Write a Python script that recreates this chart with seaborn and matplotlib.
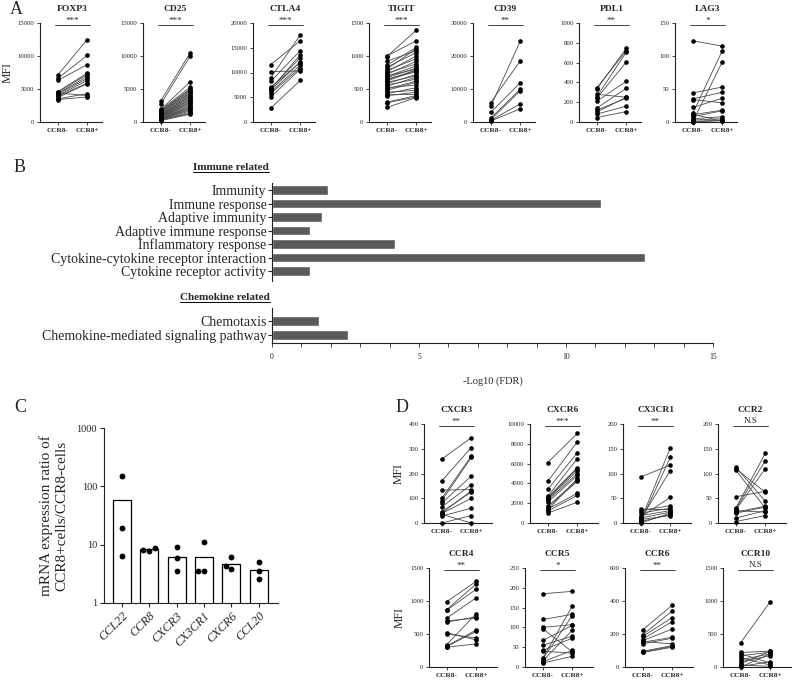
import numpy as np
import pandas as pd
import matplotlib
matplotlib.use("Agg")
import matplotlib.pyplot as plt
import matplotlib.ticker as ticker
from matplotlib.lines import Line2D
import seaborn as sns

# ---------------- data ----------------
# panel A : MFI, CCR8- vs CCR8+ (paired)
foxp3_neg = [7100, 6600, 6300, 4600, 4500, 4300, 4200, 4000, 3900, 3700, 3500, 4400, 3400]
foxp3_pos = [12500, 10100, 8700, 7400, 7200, 6900, 6600, 6300, 5900, 5800, 4300, 4000, 3800]
cd25_neg = [3200, 2700, 1900, 1800, 1700, 1600, 1500, 1400, 1300, 1200, 1100, 1000, 1000, 900,
            900, 800, 800, 700, 700, 600, 600, 500, 500, 400, 400, 300, 300, 200]
cd25_pos = [10500, 10000, 6100, 5300, 5000, 4900, 4700, 4500, 4400, 4200, 4000, 3900, 3700, 3500,
            3400, 3200, 3000, 2900, 2700, 2500, 2300, 2200, 2000, 1900, 1700, 1500, 1300, 1200]
ctla4_neg = [11600, 10200, 8900, 8200, 6800, 6400, 6000, 5700, 5000, 2800, 6600, 7000]
ctla4_pos = [16400, 10300, 17600, 14400, 13000, 12200, 11500, 11000, 10700, 8400, 13600, 12000]
tigit_neg = [1000, 990, 920, 860, 830, 800, 780, 760, 740, 720, 700, 690, 670, 650, 640,
             620, 600, 580, 560, 540, 520, 500, 480, 450, 430, 410, 400, 300, 290, 220]
tigit_pos = [1230, 1390, 1080, 1130, 1050, 1110, 960, 1000, 880, 920, 800, 850, 820, 760, 790,
             780, 700, 720, 650, 680, 560, 620, 600, 480, 520, 420, 450, 400, 380, 370]
cd39_neg = [4700, 5900, 2900, 1200, 700, 500, 300]
cd39_pos = [24500, 18500, 11900, 9900, 9500, 5500, 4000]
pdl1_neg = [345, 330, 280, 255, 240, 210, 140, 120, 100, 80, 45]
pdl1_pos = [720, 745, 250, 705, 605, 410, 340, 240, 250, 160, 105]
lag3_neg = [123, 13, 0, 44, 35, 34, 22, 11, 8, 5, 3, 1, 0, 12]
lag3_pos = [115, 108, 91, 53, 45, 29, 36, 18, 17, 8, 5, 3, 2, 1]

# panel B : enrichment
immune_terms = ["Immunity", "Immune response", "Adaptive immunity", "Adaptive immune response",
                "Inflammatory response", "Cytokine-cytokine receptor interaction",
                "Cytokine receptor activity"]
immune_fdr = [1.9, 11.2, 1.7, 1.3, 4.2, 12.7, 1.3]
chemo_terms = ["Chemotaxis", "Chemokine-mediated signaling pathway"]
chemo_fdr = [1.6, 2.6]

# panel C : mRNA ratio
genes = ["CCL22", "CCR8", "CXCR3", "CX3CR1", "CXCR6", "CCL20"]
ratio_ccl22 = [148, 19.3, 6.3]
ratio_ccr8 = [7.9, 8.8, 8.1]
ratio_cxcr3 = [9.1, 5.9, 3.6]
ratio_cx3cr1 = [11, 3.6, 3.6]
ratio_cxcr6 = [3.9, 6.1, 4.25]
ratio_ccl20 = [5.0, 3.6, 2.6]

# panel D : chemokine receptors MFI
cxcr3_neg = [258, 170, 133, 100, 90, 80, 65, 45, 40, 38, 28, 0, 35]
cxcr3_pos = [345, 305, 135, 270, 265, 190, 155, 125, 130, 100, 60, 30, 0]
cxcr6_neg = [6100, 4200, 3400, 2700, 2500, 2400, 2300, 2100, 1700, 1600, 1400, 1200, 1000, 2600, 1300]
cxcr6_pos = [9050, 8200, 7100, 6500, 5500, 5300, 5000, 4800, 4300, 4200, 3000, 2800, 2100, 5600, 4500]
cx3cr1_neg = [93, 5, 2, 8, 28, 12, 25, 20, 15, 10, 0, 3, 7]
cx3cr1_pos = [117, 152, 133, 106, 27, 52, 35, 30, 25, 22, 20, 17, 15]
ccr2_neg = [53, 113, 110, 107, 30, 28, 26, 22, 20, 10, 3, 25]
ccr2_pos = [64, 44, 62, 30, 141, 126, 110, 34, 32, 25, 15, 22]
ccr4_neg = [990, 870, 860, 740, 700, 680, 520, 500, 340, 320, 310, 300]
ccr4_pos = [1300, 1260, 1180, 1050, 740, 760, 410, 440, 810, 560, 540, 350]
ccr5_neg = [185, 120, 100, 97, 67, 55, 42, 40, 22, 20, 13, 10, 15]
ccr5_pos = [191, 133, 107, 38, 105, 78, 73, 35, 154, 130, 42, 27, 93]
ccr6_neg = [225, 195, 185, 170, 160, 150, 140, 155, 95, 90, 88]
ccr6_pos = [375, 340, 300, 275, 230, 180, 175, 140, 130, 125, 120]
ccr10_neg = [370, 220, 200, 170, 140, 110, 80, 50, 30, 10, 0]
ccr10_pos = [990, 240, 60, 225, 30, 200, 170, 240, 10, 80, 200]

group_labels = ["CCR8-", "CCR8+"]

# ---------------- figure ----------------
sns.set_style("ticks")
plt.rcParams["font.family"] = ["Liberation Serif", "DejaVu Serif"]
plt.rcParams["axes.linewidth"] = 0.8
plt.rcParams["axes.edgecolor"] = "#222222"

W, H = 792, 680
fig = plt.figure(figsize=(W / 100, H / 100), dpi=100)


def add_ax(left, top, width, height):
    # pixel box -> figure fraction
    return fig.add_axes([left / W, 1 - (top + height) / H, width / W, height / H])


def paired(ax, name, neg, pos, top, step, stars, ylabel=False, xlim=(-0.6, 1.5)):
    n = len(neg)
    df = pd.DataFrame({"pair": list(range(n)) * 2,
                       "grp": [0] * n + [1] * n,
                       "mfi": list(neg) + list(pos)})
    sns.lineplot(data=df, x="grp", y="mfi", units="pair", estimator=None,
                 color="#4a4a4a", lw=0.6, ax=ax, legend=False)
    sns.scatterplot(data=df, x="grp", y="mfi", color="black", s=11, linewidth=0,
                    ax=ax, legend=False, zorder=3)
    ax.collections[-1].set_clip_on(False)
    ax.set_xlim(*xlim)
    ax.set_ylim(0, top)
    ax.set_yticks(np.arange(0, top + 1, step))
    ax.yaxis.set_major_formatter(ticker.FormatStrFormatter("%d"))
    ax.set_xticks([0, 1], group_labels)
    ax.tick_params(axis="y", labelsize=4.8, length=2.5, width=0.6, pad=1.5, colors="#222222")
    ax.tick_params(axis="x", labelsize=5.2, length=2.5, width=0.6, pad=1.5)
    for t in ax.get_xticklabels():
        t.set_fontweight("bold")
    ax.set_xlabel("")
    ax.set_ylabel("MFI" if ylabel else "", fontsize=8.5, labelpad=3)
    sns.despine(ax=ax)
    tr = ax.get_xaxis_transform()
    ax.plot([-0.1, 1.1], [0.975, 0.975], transform=tr, color="#222222", lw=0.6, clip_on=False)
    ax.text(0.5, 0.985, stars, transform=tr, ha="center", va="bottom", fontsize=6.5)
    ax.text(0.5, 1.14, name, transform=tr, ha="center", va="center",
            fontsize=6.8, fontweight="bold")


# ---- panel A ----
a_left = [40, 143, 253, 369, 473, 579, 675]
a_specs = [("FOXP3", foxp3_neg, foxp3_pos, 15000, 5000, "***"),
           ("CD25", cd25_neg, cd25_pos, 15000, 5000, "***"),
           ("CTLA4", ctla4_neg, ctla4_pos, 20000, 5000, "***"),
           ("TIGIT", tigit_neg, tigit_pos, 1500, 500, "***"),
           ("CD39", cd39_neg, cd39_pos, 30000, 10000, "**"),
           ("PDL1", pdl1_neg, pdl1_pos, 1000, 200, "**"),
           ("LAG3", lag3_neg, lag3_pos, 150, 50, "*")]
for i, (lx, spec) in enumerate(zip(a_left, a_specs)):
    ax = add_ax(lx, 23, 62, 99)
    paired(ax, *spec, ylabel=(i == 0))

# ---- panel B ----
axb1 = add_ax(272, 183, 441, 98)
sns.barplot(x=immune_fdr, y=immune_terms, orient="h", color="#5a5a5a", saturation=1,
            width=0.68, ax=axb1)
axb1.set_ylim(6.74, -0.52)
axb1.set_xlim(0, 15)
axb1.spines["bottom"].set_visible(False)
axb1.spines["top"].set_visible(False)
axb1.spines["right"].set_visible(False)
axb1.tick_params(axis="x", bottom=False, labelbottom=False)
axb1.tick_params(axis="y", labelsize=10, length=3, width=0.8, pad=1)

axb2 = add_ax(272, 308, 441, 35)
sns.barplot(x=chemo_fdr, y=chemo_terms, orient="h", color="#5a5a5a", saturation=1,
            width=0.68, ax=axb2)
axb2.set_ylim(1.57, -0.93)
axb2.set_xlim(0, 15)
sns.despine(ax=axb2)
axb2.xaxis.set_major_locator(ticker.MultipleLocator(5))
axb2.xaxis.set_minor_locator(ticker.MultipleLocator(1))
axb2.tick_params(axis="x", which="both", length=3, width=0.6, labelsize=5.5, pad=4)
axb2.tick_params(axis="y", labelsize=10, length=3, width=0.8, pad=1)
axb2.set_xlabel("-Log10 (FDR)", fontsize=7.5, labelpad=11)

hdr1 = fig.text(269 / W, 1 - 167 / H, "Immune related", ha="right", va="center",
                fontsize=8, fontweight="bold")
hdr2 = fig.text(270 / W, 1 - 297 / H, "Chemokine related", ha="right", va="center",
                fontsize=8, fontweight="bold")
fig.canvas.draw()
rend = fig.canvas.get_renderer()
for hdr in (hdr1, hdr2):
    bb = hdr.get_window_extent(rend).transformed(fig.transFigure.inverted())
    fig.add_artist(Line2D([bb.x0, bb.x1], [bb.y0 - 0.001, bb.y0 - 0.001],
                          transform=fig.transFigure, color="black", lw=0.7))

# ---- panel C ----
ratio_df = pd.DataFrame({
    "gene": [g for g, vals in zip(genes, [ratio_ccl22, ratio_ccr8, ratio_cxcr3, ratio_cx3cr1,
                                          ratio_cxcr6, ratio_ccl20]) for _ in vals],
    "ratio": ratio_ccl22 + ratio_ccr8 + ratio_cxcr3 + ratio_cx3cr1 + ratio_cxcr6 + ratio_ccl20,
})
ratio_mean = ratio_df.groupby("gene")["ratio"].mean().reindex(genes)

axc = add_ax(104, 428, 174, 175)
axc.set_yscale("log")
sns.barplot(x=genes, y=ratio_mean.values, order=genes, color="white", edgecolor="black",
            linewidth=0.9, width=0.66, saturation=1, ax=axc)
sns.swarmplot(data=ratio_df, x="gene", y="ratio", order=genes, color="black", size=4.2, ax=axc)
axc.set_ylim(1, 1000)
axc.set_xlim(-0.65, 5.7)
axc.set_yticks([1, 10, 100, 1000], ["1", "10", "100", "1000"])
axc.yaxis.set_minor_locator(ticker.NullLocator())
axc.tick_params(axis="y", labelsize=7.5, length=3, width=0.8, pad=2)
axc.tick_params(axis="x", labelsize=8.8, length=3, width=0.8, pad=2)
for t in axc.get_xticklabels():
    t.set_style("italic")
    t.set_rotation(45)
    t.set_ha("right")
    t.set_rotation_mode("anchor")
axc.set_xlabel("")
axc.set_ylabel("mRNA expression ratio of\nCCR8+cells/CCR8-cells", fontsize=11, labelpad=6)
sns.despine(ax=axc)

# ---- panel D ----
d_specs = [("CXCR3", cxcr3_neg, cxcr3_pos, 400, 100, "**"),
           ("CXCR6", cxcr6_neg, cxcr6_pos, 10000, 2000, "***"),
           ("CX3CR1", cx3cr1_neg, cx3cr1_pos, 200, 50, "**"),
           ("CCR2", ccr2_neg, ccr2_pos, 200, 50, "N.S"),
           ("CCR4", ccr4_neg, ccr4_pos, 1500, 500, "**"),
           ("CCR5", ccr5_neg, ccr5_pos, 250, 50, "*"),
           ("CCR6", ccr6_neg, ccr6_pos, 600, 200, "**"),
           ("CCR10", ccr10_neg, ccr10_pos, 1500, 500, "N.S")]
d_left = [424, 530, 623, 718, 429, 525, 625, 723]
d_top = [424] * 4 + [568] * 4
for i, spec in enumerate(d_specs):
    ax = add_ax(d_left[i], d_top[i], 68, 99)
    paired(ax, *spec, ylabel=(i % 4 == 0), xlim=(-0.6, 1.7))

# ---- panel letters ----
for letter, (px, py) in {"A": (10, 10), "B": (14, 168), "C": (14, 407), "D": (396, 408)}.items():
    fig.text(px / W, 1 - py / H, letter, fontsize=13, ha="left", va="center")

fig.savefig("out.png", dpi=100)
